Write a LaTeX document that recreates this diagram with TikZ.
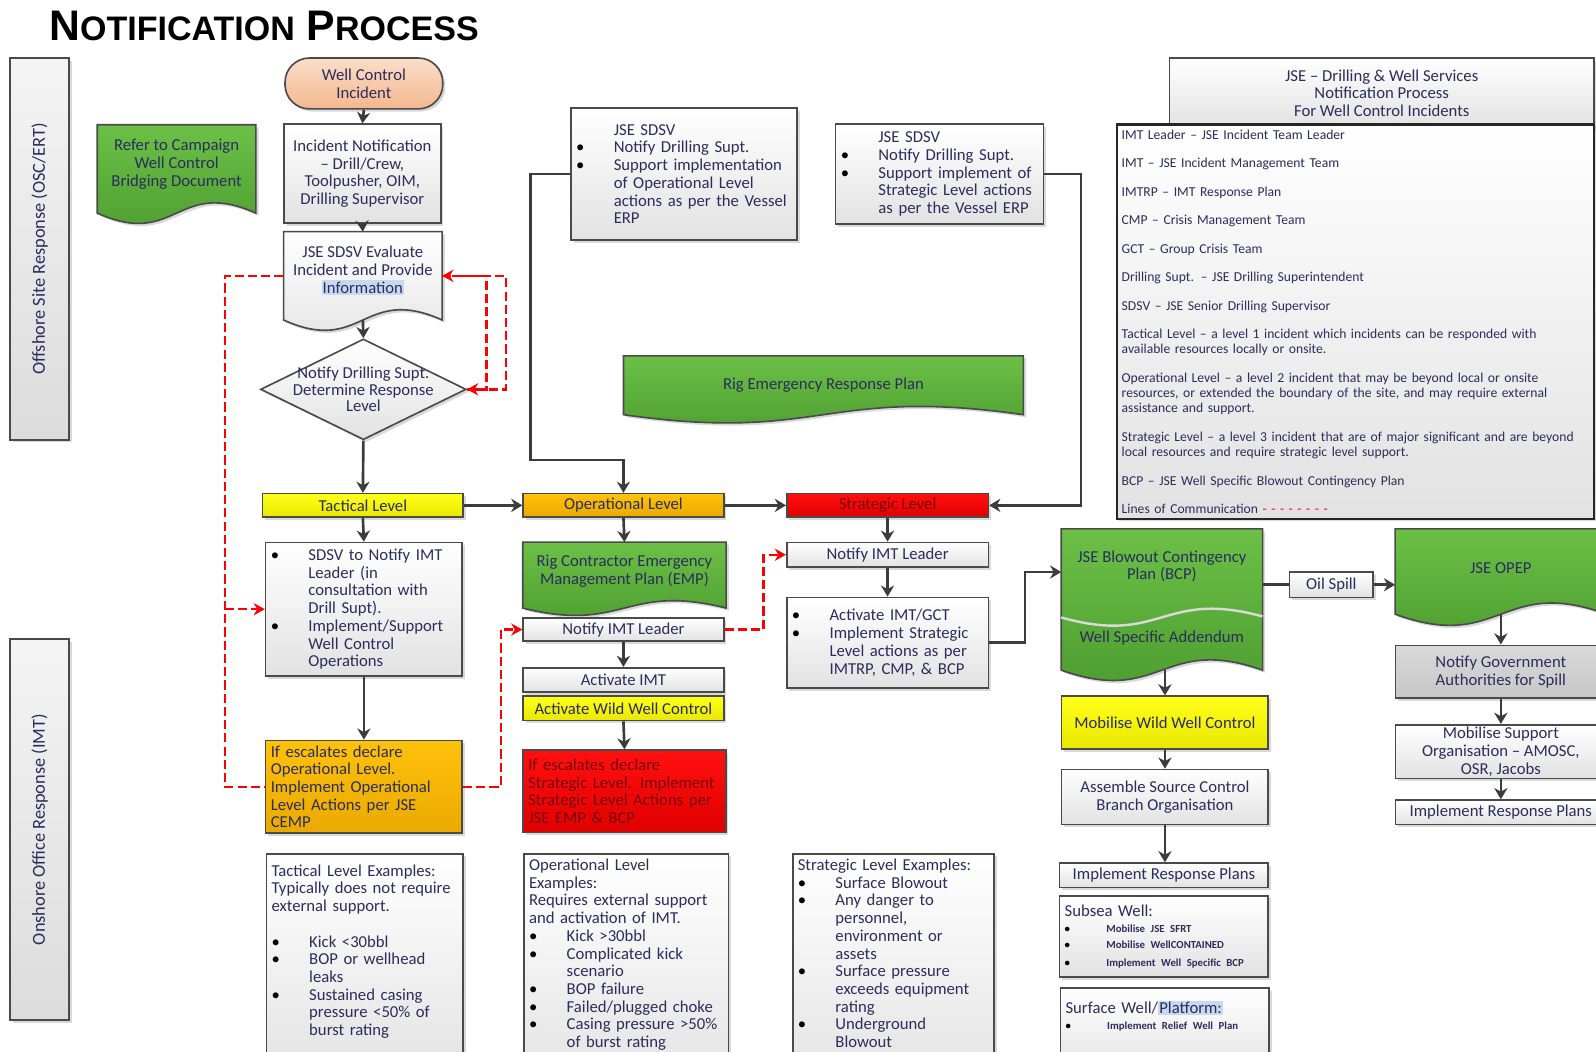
\documentclass[tikz,border=0pt]{standalone}
\usepackage{fontspec}
\setmainfont{Carlito}
\newfontfamily\headfont{Liberation Sans}
\usetikzlibrary{arrows.meta,shapes.geometric,shadows,calc,backgrounds}

\definecolor{txtc}{HTML}{2B2D5C}
\definecolor{edgec}{HTML}{4A4A4A}
\definecolor{linec}{HTML}{3C3C3C}
\definecolor{boxbot}{HTML}{E2E2E2}
\definecolor{yeltop}{HTML}{FFFF1A}
\definecolor{yelbot}{HTML}{E8E800}
\definecolor{orgtop}{HTML}{FFC20A}
\definecolor{orgbot}{HTML}{E9A900}
\definecolor{redtop}{HTML}{FF1010}
\definecolor{redbot}{HTML}{E00000}
\definecolor{redtxt}{HTML}{7A0000}
\definecolor{grntop}{HTML}{6CC046}
\definecolor{grnbot}{HTML}{4A9A2E}
\definecolor{peachtop}{HTML}{FBDDC8}
\definecolor{peachbot}{HTML}{F3B88F}
\definecolor{lanetop}{HTML}{F4F4F4}
\definecolor{lanebot}{HTML}{DCDCDC}
\definecolor{govtop}{HTML}{DADADA}
\definecolor{govbot}{HTML}{C6C6C6}
\definecolor{hlc}{HTML}{C6D9F0}

\newcommand{\listdot}[1][18.5pt]{\makebox[#1][l]{\color{black}\textbullet}}
\newcommand{\listgap}[1][18.5pt]{\hspace*{#1}}
\newcommand{\hilite}[1]{{\setlength{\fboxsep}{0.6pt}\colorbox{hlc}{#1}}}
\newcommand{\tinybold}{\fontsize{5.3}{7.8}\selectfont\bfseries}
\newcommand{\docpath}[3]{%
  \path[#2] (#1.north west) -- (#1.north east) -- (#1.south east)
    .. controls ($(#1.south)+(0,-#3)$) and ($(#1.south)+(0,#3)$) .. (#1.south west) -- cycle;}

\tikzset{
  boxshadow/.style={drop shadow={shadow xshift=1.3pt, shadow yshift=-1.3pt, opacity=0.3}},
  box/.style={draw=edgec, line width=0.8pt, top color=white, bottom color=boxbot, boxshadow,
    text=txtc, font=\fontsize{8.2}{8.7}\selectfont, align=center, inner sep=1pt},
  listbox/.style={box, align=left, inner sep=2.5pt},
  yelbox/.style={top color=yeltop, bottom color=yelbot},
  orgbox/.style={top color=orgtop, bottom color=orgbot},
  redbox/.style={top color=redtop, bottom color=redbot, text=redtxt},
  govbox/.style={top color=govtop, bottom color=govbot},
  docnode/.style={text=txtc, font=\fontsize{8.2}{8.7}\selectfont, align=center, inner sep=0pt},
  docgreen/.style={draw=edgec, line width=0.8pt, top color=grntop, bottom color=grnbot, boxshadow},
  docgray/.style={draw=edgec, line width=0.8pt, top color=white, bottom color=boxbot, boxshadow},
  wavehl/.style={draw=white!70!gray, line width=1.2pt},
  lane/.style={draw=edgec, line width=0.8pt, rotate=90, top color=lanetop, bottom color=lanebot,
    text=txtc, font=\fontsize{9}{9}\selectfont, boxshadow},
  arr/.style={draw=linec, line width=1.3pt, -{Stealth[length=5.5pt,width=6.5pt]}},
  link/.style={draw=linec, line width=1.3pt},
  comm/.style={draw=red, line width=1.2pt, dash pattern=on 4.5pt off 2pt, -{Stealth[length=5.5pt,width=6pt]}},
  commline/.style={comm, -}
}

\begin{document}
\begin{tikzpicture}[x=0.5pt, y=-0.5pt]
    \useasboundingbox (0,0) rectangle (1568,1033);

    \node[anchor=base west, inner sep=0pt, text=black] (title) at (48,40)
        {\headfont\bfseries\fontsize{21}{21}\selectfont N\fontsize{16.7}{16.7}\selectfont OTIFICATION\fontsize{21}{21}\selectfont{} P\fontsize{16.7}{16.7}\selectfont ROCESS};

    \node[lane, minimum width=187.5pt, minimum height=29pt] (offshore) at (39,244.5) {Offshore Site Response (OSC/ERT)};
    \node[lane, minimum width=187pt, minimum height=29pt] (onshore) at (39,815) {Onshore Office Response (IMT)};

    % tactical column
    \node[box, top color=peachtop, bottom color=peachbot, rounded corners=12pt,
        minimum width=77.5pt, minimum height=25pt] (incident) at (357.5,82) {Well Control\\Incident};
    \node[box, minimum width=77pt, minimum height=48.5pt] (notif) at (356,170.5)
        {Incident Notification\\-- Drill/Crew,\\Toolpusher, OIM,\\Drilling Supervisor};
    \node[docnode, minimum width=77.5pt, minimum height=43pt] (refer) at (173.5,166)
        {Refer to Campaign\\Well Control\\Bridging Document\\[-2.7pt]\mbox{}};
    \node[docnode, minimum width=77.5pt, minimum height=43pt] (eval) at (356.5,271)
        {JSE SDSV Evaluate\\Incident and Provide\\\hilite{Information}\\[-2.7pt]\mbox{}};
    \node[box, shape=diamond, minimum width=101pt, minimum height=49.5pt, inner sep=0pt,
        font=\fontsize{8.2}{7.9}\selectfont] (decide) at (357,382.5)
        {\makebox[0pt]{\parbox{90pt}{\centering Notify Drilling Supt.\\Determine Response\\Level}}};

    \node[box, yelbox, minimum width=98.5pt, minimum height=11.5pt, inner sep=0pt] (tactical) at (356.5,496.5) {Tactical Level};
    \node[box, orgbox, minimum width=98.5pt, minimum height=11.5pt, inner sep=0pt] (operational) at (612.5,496.5) {Operational Level};
    \node[box, redbox, minimum width=99pt, minimum height=11.5pt, inner sep=0pt] (strategic) at (872,496.5) {Strategic Level};

    \node[listbox, text width=91.5pt, minimum height=65.5pt] (sdsvtac) at (357.5,598.5)
        {\listdot SDSV to Notify IMT\\
         \listgap Leader (in\\
         \listgap consultation with\\
         \listgap Drill Supt).\\
         \listdot Implement/Support\\
         \listgap Well Control\\
         \listgap Operations};
    \node[listbox, orgbox, text width=91.5pt, minimum height=45pt] (escop) at (357.5,773)
        {If escalates declare\\Operational Level.\\Implement Operational\\Level Actions per JSE\\CEMP};
    \node[listbox, anchor=north west, text width=91.5pt] (extac) at (261,838)
        {\rule{0pt}{8.5pt}Tactical Level Examples:\\
         Typically does not require\\
         external support.\\[8.7pt]
         \listdot Kick <30bbl\\
         \listdot BOP or wellhead\\
         \listgap leaks\\
         \listdot Sustained casing\\
         \listgap pressure <50\% of\\
         \listgap burst rating\\[12pt]\mbox{}};

    % operational column
    \node[listbox, text width=106pt, minimum height=65pt] (sdsvop) at (672,171)
        {\listgap JSE SDSV\\
         \listdot Notify Drilling Supt.\\
         \listdot Support implementation\\
         \listgap of Operational Level\\
         \listgap actions as per the Vessel\\
         \listgap ERP};
    \node[docnode, minimum width=196pt, minimum height=28.5pt] (erp) at (809,378.5) {Rig Emergency Response Plan};
    \node[docnode, minimum width=99.5pt, minimum height=32pt] (emp) at (613.5,565)
        {Rig Contractor Emergency\\Management Plan (EMP)\\[-3.7pt]\mbox{}};
    \node[box, minimum width=98.5pt, minimum height=11.5pt, inner sep=0pt] (notifyop) at (612.5,618.5) {Notify IMT Leader};
    \node[box, minimum width=98.5pt, minimum height=12pt, inner sep=0pt] (actimt) at (612.5,668) {Activate IMT};
    \node[box, yelbox, minimum width=98.5pt, minimum height=12pt, inner sep=0pt] (actwwc) at (612.5,696) {Activate Wild Well Control};
    \node[listbox, redbox, text width=94.5pt, minimum height=40.5pt] (escstr) at (613.5,777.5)
        {If escalates declare\\Strategic Level. Implement\\Strategic Level Actions per\\JSE EMP \& BCP};
    \node[listbox, anchor=north west, text width=95.5pt] (exop) at (514,838)
        {Operational Level\\
         Examples:\\
         Requires external support\\
         and activation of IMT.\\
         \listdot Kick >30bbl\\
         \listdot Complicated kick\\
         \listgap scenario\\
         \listdot BOP failure\\
         \listdot Failed/plugged choke\\
         \listdot Casing pressure >50\%\\
         \listgap of burst rating\\[12pt]\mbox{}};

    % strategic column
    \node[listbox, text width=97pt, minimum height=49pt] (sdsvstr) at (923,171)
        {\listgap JSE SDSV\\
         \listdot Notify Drilling Supt.\\
         \listdot Support implement of\\
         \listgap Strategic Level actions\\
         \listgap as per the Vessel ERP};
    \node[box, minimum width=99pt, minimum height=12pt, inner sep=0pt] (notifystr) at (872,545) {Notify IMT Leader};
    \node[listbox, text width=94pt, minimum height=44.5pt] (actstr) at (872,631.5)
        {\listdot Activate IMT/GCT\\
         \listdot Implement Strategic\\
         \listgap Level actions as per\\
         \listgap IMTRP, CMP, \& BCP};
    \node[listbox, anchor=north west, text width=94pt] (exstr) at (778,838)
        {Strategic Level Examples:\\
         \listdot Surface Blowout\\
         \listdot Any danger to\\
         \listgap personnel,\\
         \listgap environment or\\
         \listgap assets\\
         \listdot Surface pressure\\
         \listgap exceeds equipment\\
         \listgap rating\\
         \listdot Underground\\
         \listgap Blowout\\[12pt]\mbox{}};

    % blowout contingency
    \node[docnode, minimum width=98.5pt, minimum height=69pt] (bcp) at (1141.5,589)
        {\parbox[c][69pt][t]{98pt}{\centering\vspace*{10.5pt}JSE Blowout Contingency\\Plan (BCP)\\[22.1pt]Well Specific Addendum}};
    \node[box, yelbox, minimum width=101.5pt, minimum height=26pt] (mobwwc) at (1144.5,710) {Mobilise Wild Well Control};
    \node[box, minimum width=101.5pt, minimum height=27pt] (assemble) at (1144.5,783) {Assemble Source Control\\Branch Organisation};
    \node[box, minimum width=102.5pt, minimum height=12pt, inner sep=0pt] (implbcp) at (1143.5,860) {Implement Response Plans};
    \node[listbox, text width=97.5pt, minimum height=40pt] (subsea) at (1143.5,920)
        {Subsea Well:\\
         \tinybold\listdot[20.5pt]Mobilise JSE SFRT\\
         \tinybold\listdot[20.5pt]Mobilise WellCONTAINED\\
         \tinybold\listdot[20.5pt]Implement Well Specific BCP};
    \node[listbox, anchor=north west, text width=97.5pt] (surface) at (1041,970)
        {\rule{0pt}{10pt}Surface Well/\hilite{Platform:}\\
         \tinybold\listdot[20.5pt]Implement Relief Well Plan\\[12pt]\mbox{}};

    % oil spill
    \node[box, minimum width=41pt, minimum height=12.5pt, inner sep=0pt] (oilspill) at (1308,574.5) {Oil Spill};
    \node[docnode, minimum width=103.5pt, minimum height=41.5pt] (opep) at (1474.5,561.5) {JSE OPEP\\[-5.2pt]\mbox{}};
    \node[box, govbox, minimum width=103.5pt, minimum height=26pt] (govt) at (1474.5,660) {Notify Government\\Authorities for Spill};
    \node[box, minimum width=103.5pt, minimum height=26.5pt, inner sep=0.5pt] (mobsup) at (1474.5,738.5) {Mobilise Support\\Organisation -- AMOSC,\\OSR, Jacobs};
    \node[box, minimum width=103.5pt, minimum height=12pt, inner sep=0pt] (implopep) at (1474.5,798) {Implement Response Plans};

    % legend
    \node[box, minimum width=208.5pt, minimum height=34.5pt] (legendtitle) at (1357.5,91.5)
        {JSE -- Drilling \& Well Services\\Notification Process\\For Well Control Incidents};
    \node[box, draw=black!85, line width=1pt, align=left, text width=229.5pt, inner sep=2.5pt,
        minimum height=192pt, font=\fontsize{6.7}{7.5}\selectfont] (legend) at (1331.5,316)
        {IMT Leader -- JSE Incident Team Leader\\[6.5pt]
         IMT -- JSE Incident Management Team\\[6.5pt]
         IMTRP -- IMT Response Plan\\[6.5pt]
         CMP -- Crisis Management Team\\[6.5pt]
         GCT -- Group Crisis Team\\[6.5pt]
         Drilling Supt. -- JSE Drilling Superintendent\\[6.5pt]
         SDSV -- JSE Senior Drilling Supervisor\\[6.5pt]
         \mbox{Tactical Level -- a level 1 incident which incidents can be responded with}\\
         available resources locally or onsite.\\[6.5pt]
         \mbox{Operational Level -- a level 2 incident that may be beyond local or onsite}\\
         \mbox{resources, or extended the boundary of the site, and may require external}\\
         assistance and support.\\[6.5pt]
         \mbox{Strategic Level -- a level 3 incident that are of major significant and are beyond}\\
         local resources and require strategic level support.\\[6.5pt]
         BCP -- JSE Well Specific Blowout Contingency Plan\\[6.5pt]
         Lines of Communication {\color{red}- - - - - - - -}};

    \begin{scope}[on background layer]
        \docpath{refer}{docgreen}{35}
        \docpath{eval}{docgray}{35}
        \docpath{erp}{docgreen}{28}
        \docpath{emp}{docgreen}{25}
        \docpath{bcp}{docgreen}{35}
        \draw[wavehl]
            ($(bcp.north west)+(0,87)$) .. controls ($(bcp.north)+(0,115)$) and ($(bcp.north)+(0,59)$) .. ($(bcp.north east)+(0,86)$);
        \docpath{opep}{docgreen}{38}
    \end{scope}

    \coordinate (kneeA) at (521,452);
    \coordinate (kneeB) at (1062,0);
    \coordinate (kneeC) at (1007,562);
    \coordinate (loopA) at (478,0);
    \coordinate (loopB) at (497,0);
    \coordinate (loopC) at (492,0);
    \coordinate (loopD) at (750,0);
    \coordinate (loopE) at (221,0);

    \draw[arr] (incident.south) -- (notif.north);
    \draw[arr] (notif.south) -- (eval.north);
    \draw[arr] (eval.south) -- (decide.north);
    \draw[arr] (decide.south) -- (tactical.north);
    \draw[arr] (tactical.east) -- (operational.west);
    \draw[arr] (operational.east) -- (strategic.west);
    \draw[arr] (tactical.south) -- (sdsvtac.north);
    \draw[arr] (sdsvtac.south) -- (escop.north);
    \draw[arr] (operational.south) -- (emp.north);
    \draw[arr] (notifyop.south) -- (actimt.north);
    \draw[arr] (actwwc.south) -- (escstr.north);
    \draw[arr] (strategic.south) -- (notifystr.north);
    \draw[arr] (notifystr.south) -- (actstr.north);
    \draw[arr] (sdsvop.west) -| (kneeA) -| (operational.north);
    \draw[arr] (sdsvstr.east) -| (kneeB |- strategic.east) -- (strategic.east);
    \draw[arr] (actstr.east) -| (kneeC) -- (kneeC -| bcp.west);
    \draw[arr] (mobwwc.north |- bcp.south) -- (mobwwc.north);
    \draw[arr] (mobwwc.south) -- (assemble.north);
    \draw[arr] (assemble.south) -- (assemble.south |- implbcp.north);
    \draw[link] (bcp.east |- oilspill.west) -- (oilspill.west);
    \draw[arr] (oilspill.east) -- (oilspill.east -| opep.west);
    \draw[arr] (opep.south) -- (govt.north);
    \draw[arr] (govt.south) -- (mobsup.north);
    \draw[arr] (mobsup.south) -- (implopep.north);

    \draw[commline] (eval.west) -| (loopE |- escop.west) -- (escop.west);
    \draw[comm] (loopE |- sdsvtac.west) -- (sdsvtac.west);
    \draw[comm] (decide.east) -| (loopA |- eval.east) -- (eval.east);
    \draw[comm] (eval.east) -| (loopB |- decide.east) -- (decide.east);
    \draw[comm] (escop.east) -| (loopC |- notifyop.west) -- (notifyop.west);
    \draw[comm] (notifyop.east) -| (loopD |- notifystr.west) -- (notifystr.west);
\end{tikzpicture}
\end{document}
